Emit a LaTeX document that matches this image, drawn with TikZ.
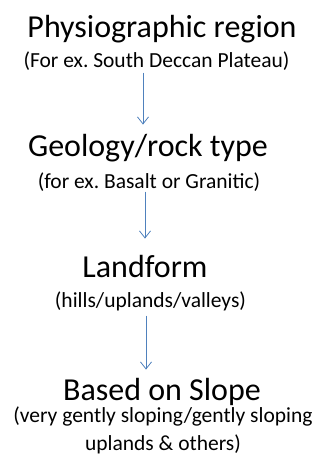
\documentclass[tikz,border=0pt]{standalone}
\usepackage{fontspec}
\setmainfont{Carlito}
\usepackage{tikz}
\usetikzlibrary{arrows.meta,calc}
\definecolor{arrowblue}{RGB}{79,129,189}
\frenchspacing

\begin{document}
\begin{tikzpicture}
      [x = 1pt, y = -1pt,
      title/.style= {
         anchor = base,
         inner sep = 0pt,
         font = \fontsize{32}{38}\selectfont
      },
      note/.style= {
         anchor = base,
         inner sep = 0pt,
         text height = 0.7em,
         text depth = 0.25em,
         align = center,
         font = \fontsize{21.5}{28}\selectfont
      },
      arrow/.style={
         arrowblue,
         line width = 0.8pt,
         -{Straight Barb[length=7pt, width=11pt]}
      }]

      \useasboundingbox (0, 0) rectangle (320, 455);

      \node[title] (region) at (162, 37) {Physiographic region};
      \node[note] (regionex) at (156.5, 67) {(For ex. South Deccan Plateau)};

      \node[title] (geology) at (148, 156) {Geology/rock type};
      \node[note] (geologyex) at (149, 188) {(for ex. Basalt or Granitic)};

      \node[title] (landform) at (145, 277) {Landform};
      \node[note] (landformex) at (150.5, 307) {(hills/uplands/valleys)};

      \node[title] (slope) at (162, 400) {Based on Slope};
      \node[note] (slopeex) at (163, 450) {(very gently sloping/gently sloping\\uplands \& others)};

      \draw[arrow] ($(regionex.south) + (-13.5, 3)$) coordinate (a1) -- ($(a1 |- geology.north) + (0, -9)$);
      \draw[arrow] ($(geologyex.south) + (-4, 1)$) coordinate (a2) -- ($(a2 |- landform.north) + (0, -16)$);
      \draw[arrow] ($(landformex.south) + (-4.5, 6)$) coordinate (a3) -- ($(a3 |- slope.north) + (0, -8)$);
   \end{tikzpicture}
\end{document}
